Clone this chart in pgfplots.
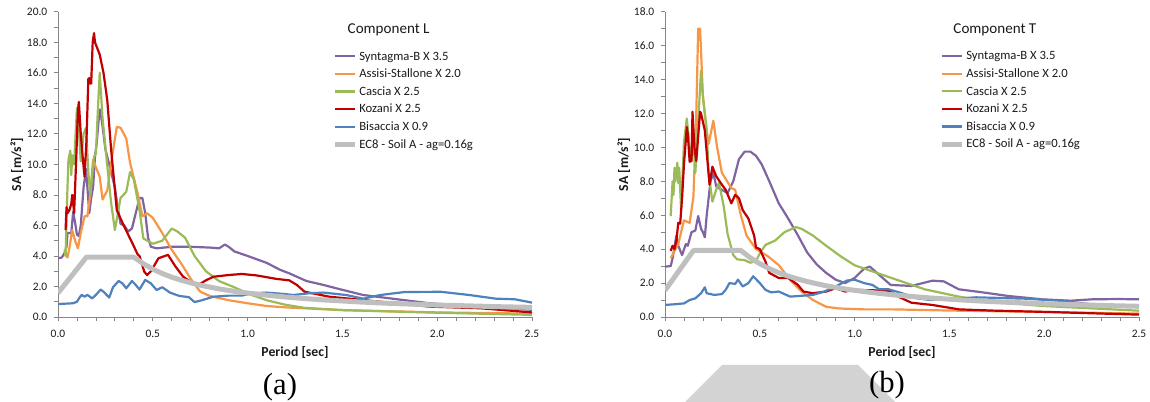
\documentclass[border=0pt]{standalone}
\usepackage{fontspec}
\setmainfont{Carlito}
\newfontfamily\panelfont{Liberation Serif}
\usepackage{pgfplots}
\pgfplotsset{compat=1.18}

\definecolor{cPurple}{HTML}{8064A2}
\definecolor{cOrange}{HTML}{F79646}
\definecolor{cGreen}{HTML}{9BBB59}
\definecolor{cRed}{HTML}{C00000}
\definecolor{cBlue}{HTML}{4F81BD}
\definecolor{cGrey}{HTML}{BFBFBF}
\definecolor{axisgray}{HTML}{868686}
\definecolor{txt}{HTML}{1A1A1A}

\pgfplotsset{
  spectrum/.style={
    scale only axis, width=355.5pt,
    xmin=0, xmax=2.5, ymin=0,
    axis x line=bottom, axis y line=left,
    axis line style={-, draw=axisgray, line width=0.6pt},
    tick align=outside,
    major tick length=3pt, minor tick length=3pt,
    tick style={draw=axisgray, line width=0.6pt},
    xtick={0,0.5,1,1.5,2,2.5}, minor x tick num=4,
    minor y tick num=1,
    /pgf/number format/assume math mode=true,
    /pgf/number format/.cd, fixed, fixed zerofill, precision=1, /pgfplots/.cd,
    tick label style={font=\fontsize{8.6}{9.5}\selectfont, text=txt},
    xticklabel style={yshift=-3pt},
    yticklabel style={xshift=-1.5pt},
    xlabel={Period [sec]}, ylabel={SA [m/s²]},
    label style={font=\bfseries\fontsize{10.3}{12}\selectfont, text=txt},
    xlabel style={at={(axis description cs:0.5,-0.115)}, anchor=center},
    ylabel style={at={(axis description cs:-0.087,0.5)}, anchor=center, rotate=0},
    legend image code/.code={\draw[#1] (0pt,0pt) -- (15pt,0pt);},
    legend cell align=left,
    legend style={draw=none, fill=none, at={(0.5696,0.8926)}, anchor=north west,
      font=\fontsize{9.5}{11}\selectfont, text=txt, column sep=1.5pt,
      row sep=0pt, nodes={inner sep=0pt, text height=9.4pt, text depth=3.8pt}},
  },
  s1/.style={cPurple, line width=1.65pt, line join=round},
  s2/.style={cOrange, line width=1.65pt, line join=round},
  s3/.style={cGreen, line width=1.65pt, line join=round},
  s4/.style={cRed, line width=1.65pt, line join=round},
  s5/.style={cBlue, line width=1.65pt, line join=round},
  s6/.style={cGrey, line width=3.75pt, line join=round},
}

\begin{document}
\begin{tikzpicture}
\useasboundingbox (0,0) rectangle (862.5pt,301.5pt);
\fill[color={rgb,255:red,211;green,211;blue,211}] (541.5pt,27.75pt) -- (643.5pt,27.75pt) -- (671.25pt,0pt) -- (513.75pt,0pt) -- cycle;

% (a) component L
\begin{axis}[spectrum, at={(43.5pt,63.75pt)}, anchor=south west,
  height=228.9pt, ymax=20, ytick={0,2,...,20}]
\addplot[s1] coordinates {
 (0,3.85) (0.02,3.9) (0.035,4.2) (0.045,4.6) (0.05,5.5) (0.07,5.5) (0.08,6.9) (0.09,6.2)
 (0.1,5.4) (0.11,5.3) (0.12,6.0) (0.135,8.5) (0.148,9.7) (0.155,8.5) (0.165,6.8) (0.175,7.8)
 (0.185,8.5) (0.195,10.5) (0.205,11.5) (0.215,13.0) (0.222,13.6) (0.235,12.5) (0.25,11.0)
 (0.28,9.5) (0.3,8.5) (0.315,7.2) (0.33,6.1) (0.35,6.0) (0.37,5.6) (0.39,5.8) (0.41,6.8)
 (0.43,7.8) (0.445,7.8) (0.46,6.8) (0.475,5.2) (0.49,4.6) (0.52,4.5) (0.6,4.6) (0.7,4.6)
 (0.8,4.55) (0.85,4.5) (0.88,4.75) (0.9,4.6) (0.93,4.3) (1.0,4.0) (1.1,3.55) (1.17,3.1)
 (1.22,2.86) (1.31,2.36) (1.4,2.1) (1.49,1.81) (1.61,1.44) (1.7,1.3) (1.79,1.16) (1.96,0.9)
 (2.1,0.78) (2.23,0.68) (2.4,0.55) (2.5,0.47)};
\addlegendentry{Syntagma-B X 3.5}
\addplot[s2] coordinates {
 (0.04,4.2) (0.05,3.9) (0.06,4.5) (0.075,5.7) (0.09,5.0) (0.105,4.5) (0.12,5.5) (0.14,6.6)
 (0.155,6.6) (0.17,8.0) (0.185,10.3) (0.2,9.8) (0.22,9.2) (0.235,7.7) (0.26,8.3) (0.285,10.5)
 (0.31,12.45) (0.33,12.4) (0.36,11.7) (0.38,10.1) (0.42,8.1) (0.445,6.6) (0.47,6.8) (0.5,6.5)
 (0.55,5.5) (0.6,4.4) (0.65,3.5) (0.7,2.5) (0.75,1.66) (0.8,1.38) (0.9,1.1) (1.0,0.9)
 (1.1,0.72) (1.2,0.63) (1.5,0.45) (2.0,0.3) (2.5,0.22)};
\addlegendentry{Assisi-Stallone X 2.0}
\addplot[s3] coordinates {
 (0.035,4.4) (0.04,4.0) (0.05,8.5) (0.055,10.3) (0.065,10.9) (0.07,9.3) (0.075,10.6) (0.085,10.0)
 (0.095,12.5) (0.1,13.7) (0.11,12.3) (0.12,10.2) (0.135,12.0) (0.148,12.4) (0.16,9.5) (0.17,8.0)
 (0.19,10.5) (0.2,10.7) (0.21,13.5) (0.22,16.0) (0.235,13.0) (0.26,9.9) (0.28,7.5) (0.3,5.7)
 (0.33,7.8) (0.36,8.2) (0.38,9.5) (0.4,9.0) (0.43,7.0) (0.45,5.15) (0.5,4.8) (0.55,5.0)
 (0.6,5.8) (0.63,5.6) (0.67,5.2) (0.72,4.0) (0.78,3.0) (0.85,2.35) (0.92,2.0) (1.02,1.45)
 (1.1,1.1) (1.2,0.8) (1.3,0.6) (1.5,0.45) (2.0,0.28) (2.5,0.14)};
\addlegendentry{Cascia X 2.5}
\addplot[s4] coordinates {
 (0.04,5.7) (0.045,7.2) (0.05,6.8) (0.06,7.0) (0.07,7.4) (0.075,8.0) (0.08,7.5) (0.085,6.8)
 (0.095,10) (0.105,13.5) (0.11,14.1) (0.12,12) (0.13,10.5) (0.14,9.2) (0.15,11.5) (0.16,15.6)
 (0.165,15.65) (0.17,15.3) (0.175,15.3) (0.183,18.0) (0.19,18.6) (0.195,18.0) (0.22,17.2)
 (0.24,16) (0.26,14.2) (0.28,11.0) (0.31,7.0) (0.35,5.9) (0.39,4.9) (0.42,4.1) (0.43,4.0)
 (0.455,2.97) (0.47,2.75) (0.49,3.0) (0.53,3.85) (0.58,4.07) (0.62,3.3) (0.66,2.64) (0.7,2.3)
 (0.74,2.1) (0.78,2.4) (0.82,2.64) (0.9,2.75) (0.97,2.82) (1.05,2.72) (1.15,2.5) (1.22,2.4)
 (1.26,2.1) (1.3,1.66) (1.43,1.33) (1.7,1.0) (1.96,0.68) (2.23,0.57) (2.5,0.3)};
\addlegendentry{Kozani X 2.5}
\addplot[s5] coordinates {
 (0,0.85) (0.05,0.88) (0.08,0.9) (0.1,1.0) (0.115,1.3) (0.125,1.45) (0.14,1.33) (0.155,1.45)
 (0.18,1.22) (0.2,1.45) (0.225,1.8) (0.245,1.6) (0.27,1.27) (0.29,1.95) (0.32,2.36) (0.34,2.2)
 (0.36,1.88) (0.39,2.36) (0.41,2.1) (0.43,1.8) (0.46,2.43) (0.49,2.2) (0.52,1.77) (0.55,1.95)
 (0.59,1.6) (0.64,1.38) (0.69,1.3) (0.72,0.98) (0.76,1.1) (0.82,1.33) (0.9,1.4) (0.97,1.4)
 (1.02,1.55) (1.1,1.6) (1.2,1.5) (1.24,1.44) (1.32,1.55) (1.4,1.6) (1.52,1.44) (1.61,1.2)
 (1.7,1.44) (1.83,1.64) (2.02,1.65) (2.17,1.44) (2.31,1.2) (2.41,1.16) (2.5,0.94)};
\addlegendentry{Bisaccia X 0.9}
\addplot[s6] coordinates {
 (0,1.57) (0.15,3.92) (0.4,3.92) (0.45,3.49) (0.5,3.14) (0.55,2.85) (0.6,2.61) (0.65,2.41)
 (0.7,2.24) (0.75,2.09) (0.8,1.96) (0.85,1.84) (0.9,1.74) (0.95,1.65) (1.0,1.57) (1.1,1.43)
 (1.2,1.31) (1.3,1.21) (1.4,1.12) (1.5,1.05) (1.6,0.98) (1.7,0.92) (1.8,0.87) (1.9,0.83)
 (2.0,0.78) (2.1,0.75) (2.25,0.70) (2.3,0.68) (2.5,0.63)};
\addlegendentry{EC8 - Soil A - ag=0.16g}
\node[anchor=base, font=\fontsize{11.3}{13}\selectfont, text=txt] at (axis cs:1.744,18.6) {Component L};
\end{axis}

% (b) component T
\begin{axis}[spectrum, at={(498.75pt,63.75pt)}, anchor=south west,
  height=229pt, ymax=18, ytick={0,2,...,18}]
\addplot[s1] coordinates {
 (0,2.97) (0.03,3.0) (0.04,3.46) (0.06,4.8) (0.07,4.2) (0.09,3.65) (0.11,4.3) (0.12,4.2)
 (0.14,5.0) (0.16,5.1) (0.175,5.95) (0.19,5.2) (0.2,5.0) (0.21,4.7) (0.22,6.0) (0.24,8.0)
 (0.255,8.5) (0.27,7.7) (0.3,7.5) (0.33,7.3) (0.36,8.0) (0.39,9.3) (0.42,9.75) (0.45,9.75)
 (0.48,9.5) (0.51,9.0) (0.55,8.0) (0.6,6.7) (0.65,5.8) (0.7,4.83) (0.75,3.8) (0.8,3.1)
 (0.85,2.6) (0.9,2.2) (0.95,2.0) (1.0,2.3) (1.05,2.85) (1.08,2.97) (1.13,2.48) (1.19,1.89)
 (1.3,1.83) (1.41,2.14) (1.47,2.1) (1.55,1.63) (1.65,1.49) (1.81,1.24) (1.99,1.04) (2.14,0.96)
 (2.25,1.04) (2.39,1.06) (2.5,1.04)};
\addlegendentry{Syntagma-B X 3.5}
\addplot[s2] coordinates {
 (0.03,3.46) (0.07,4.3) (0.1,5.7) (0.13,5.55) (0.15,7.1) (0.165,12.0) (0.175,17.0) (0.185,17.0)
 (0.2,13.0) (0.22,11.0) (0.23,10.2) (0.255,11.57) (0.275,10.0) (0.3,8.5) (0.35,7.6) (0.37,7.5)
 (0.4,6.0) (0.43,4.8) (0.48,4.0) (0.54,3.6) (0.6,3.06) (0.66,2.18) (0.72,1.5) (0.78,1.0)
 (0.85,0.6) (0.92,0.5) (1.05,0.45) (1.2,0.45) (1.5,0.38) (2.0,0.3) (2.5,0.2)};
\addlegendentry{Assisi-Stallone X 2.0}
\addplot[s3] coordinates {
 (0.03,5.95) (0.04,8.0) (0.045,7.2) (0.05,8.8) (0.055,8.0) (0.065,9.1) (0.07,7.9) (0.075,8.8)
 (0.085,6.3) (0.1,10.3) (0.115,11.7) (0.13,10.0) (0.14,9.2) (0.15,11.0) (0.16,8.5) (0.175,11.5)
 (0.19,14.5) (0.2,13.0) (0.22,11.0) (0.23,8.5) (0.25,6.8) (0.27,7.5) (0.285,7.9) (0.31,6.5)
 (0.33,4.9) (0.36,3.65) (0.38,3.4) (0.42,3.35) (0.45,3.2) (0.48,3.3) (0.5,3.75) (0.53,4.25)
 (0.58,4.5) (0.63,5.0) (0.69,5.3) (0.72,5.2) (0.78,4.8) (0.85,4.2) (0.93,3.55) (1.0,3.05)
 (1.2,2.28) (1.37,1.63) (1.55,1.2) (1.72,0.9) (1.99,0.65) (2.25,0.51) (2.5,0.37)};
\addlegendentry{Cascia X 2.5}
\addplot[s4] coordinates {
 (0.03,3.9) (0.04,4.2) (0.05,4.0) (0.06,4.5) (0.07,5.55) (0.08,5.5) (0.09,7.0) (0.1,9.0)
 (0.115,11.2) (0.12,10.8) (0.13,9.15) (0.14,9.2) (0.145,12.1) (0.155,10.0) (0.165,9.2)
 (0.185,12.1) (0.19,12.0) (0.21,11.0) (0.225,9.05) (0.235,7.8) (0.25,8.86) (0.27,8.3) (0.3,7.8)
 (0.32,7.5) (0.35,6.7) (0.37,7.2) (0.39,7.0) (0.41,6.3) (0.44,5.8) (0.47,4.8) (0.48,4.1)
 (0.5,4.0) (0.53,3.26) (0.55,2.6) (0.6,2.3) (0.65,2.3) (0.7,1.9) (0.73,1.5) (0.78,1.4)
 (0.85,1.5) (0.9,1.7) (0.95,1.5) (1.0,1.6) (1.18,1.55) (1.23,1.2) (1.3,0.84) (1.41,0.71)
 (1.55,0.45) (1.72,0.38) (2.0,0.3) (2.5,0.14)};
\addlegendentry{Kozani X 2.5}
\addplot[s5] coordinates {
 (0,0.71) (0.05,0.75) (0.1,0.8) (0.13,1.0) (0.16,1.1) (0.19,1.4) (0.21,1.75) (0.22,1.4)
 (0.26,1.3) (0.3,1.35) (0.32,1.6) (0.34,2.0) (0.37,1.95) (0.385,2.2) (0.41,1.8) (0.44,2.0)
 (0.465,2.4) (0.5,2.0) (0.53,1.6) (0.56,1.45) (0.6,1.5) (0.64,1.3) (0.66,1.2) (0.72,1.25)
 (0.78,1.3) (0.84,1.5) (0.9,1.8) (0.96,2.15) (1.0,2.2) (1.05,2.0) (1.094,1.89) (1.13,1.63)
 (1.18,1.63) (1.25,1.4) (1.33,1.1) (1.4,1.0) (1.5,1.05) (1.64,1.16) (1.9,1.08) (2.07,0.97)
 (2.25,0.75) (2.5,0.62)};
\addlegendentry{Bisaccia X 0.9}
\addplot[s6] coordinates {
 (0,1.57) (0.15,3.92) (0.4,3.92) (0.45,3.49) (0.5,3.14) (0.55,2.85) (0.6,2.61) (0.65,2.41)
 (0.7,2.24) (0.75,2.09) (0.8,1.96) (0.85,1.84) (0.9,1.74) (0.95,1.65) (1.0,1.57) (1.1,1.43)
 (1.2,1.31) (1.3,1.21) (1.4,1.12) (1.5,1.05) (1.6,0.98) (1.7,0.92) (1.8,0.87) (1.9,0.83)
 (2.0,0.78) (2.1,0.75) (2.25,0.70) (2.3,0.68) (2.5,0.63)};
\addlegendentry{EC8 - Soil A - ag=0.16g}
\node[anchor=base, font=\fontsize{11.3}{13}\selectfont, text=txt] at (axis cs:1.74,16.73) {Component T};
\end{axis}

\node[font=\panelfont\fontsize{23}{26}\selectfont] at (210pt,11.25pt) {(a)};
\node[font=\panelfont\fontsize{23}{26}\selectfont] at (665.25pt,12.75pt) {(b)};
\end{tikzpicture}
\end{document}
